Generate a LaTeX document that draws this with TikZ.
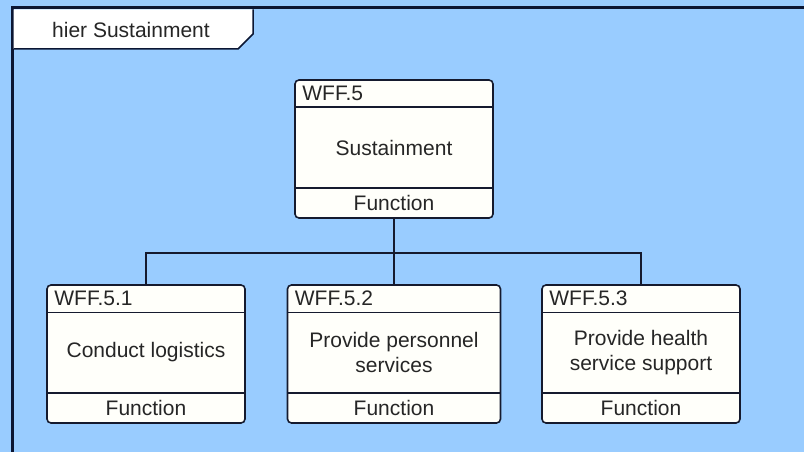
\documentclass[tikz,border=0pt]{standalone}
\usepackage{fontspec}
\setmainfont{Liberation Sans}
\definecolor{bg}{HTML}{99CCFF}
\definecolor{framec}{HTML}{0B1633}
\definecolor{linec}{HTML}{151A2E}
\definecolor{boxfill}{HTML}{FFFFFA}
\definecolor{txt}{HTML}{262626}
\tikzset{
  fbox/.style={draw=linec, line width=1.6pt, fill=boxfill, rounded corners=4pt, inner sep=0pt, minimum height=138pt},
  divline/.style={draw=linec, line width=1.4pt},
  conn/.style={draw=linec, line width=1.8pt},
  lbl/.style={text=txt, font=\fontsize{21}{25}\selectfont, inner sep=0pt, align=center},
}
\begin{document}
\begin{tikzpicture}[x=1pt,y=-1pt]
\fill[bg] (0,0) rectangle (804,452);
\useasboundingbox (0,0) rectangle (804,452);
% frame
\draw[framec, line width=3pt] (12,452) -- (12,8) -- (804,8);
% tab
\fill[white] (13.5,9.5) -- (253,9.5) -- (253,34) -- (238,49) -- (13.5,49) -- cycle;
\draw[framec, line width=1.5pt] (253,9.5) -- (253,34) -- (238,49) -- (13.5,49);
\node[lbl] (tab) at (131,30) {hier Sustainment};

% boxes
\node[fbox, minimum width=198pt] (b0) at (394,149) {};
\node[fbox, minimum width=198pt] (b1) at (146,354) {};
\node[fbox, minimum width=213pt] (b2) at (394,354) {};
\node[fbox, minimum width=198pt] (b3) at (641,354) {};

\foreach \b in {b0,b1,b2,b3}{
  \draw[divline] ([yshift=-28pt]\b.north west) -- ([yshift=-28pt]\b.north east);
  \draw[divline] ([yshift=31pt]\b.south west) -- ([yshift=31pt]\b.south east);
}

% texts
\node[lbl, anchor=west] (b0id) at ([xshift=8pt,yshift=-14pt]b0.north west) {WFF.5};
\node[lbl] (b0t) at ([yshift=1.5pt]b0.center) {Sustainment};
\node[lbl] (b0f) at ([yshift=15.5pt]b0.south) {Function};

\node[lbl, anchor=west] (b1id) at ([xshift=8pt,yshift=-14pt]b1.north west) {WFF.5.1};
\node[lbl] (b1t) at ([yshift=1.5pt]b1.center) {Conduct logistics};
\node[lbl] (b1f) at ([yshift=15.5pt]b1.south) {Function};

\node[lbl, anchor=west] (b2id) at ([xshift=8pt,yshift=-14pt]b2.north west) {WFF.5.2};
\node[lbl] (b2t) at ([yshift=1.5pt]b2.center) {Provide personnel\\services};
\node[lbl] (b2f) at ([yshift=15.5pt]b2.south) {Function};

\node[lbl, anchor=west] (b3id) at ([xshift=8pt,yshift=-14pt]b3.north west) {WFF.5.3};
\node[lbl] (b3t) at ([yshift=1.5pt]b3.center) {Provide health\\service support};
\node[lbl] (b3f) at ([yshift=15.5pt]b3.south) {Function};

% connectors
\coordinate (j) at (394,253);
\draw[conn] (b0.south) -- (b2.north);
\draw[conn] (b1.north) |- (j) -| (b3.north);
\end{tikzpicture}
\end{document}
